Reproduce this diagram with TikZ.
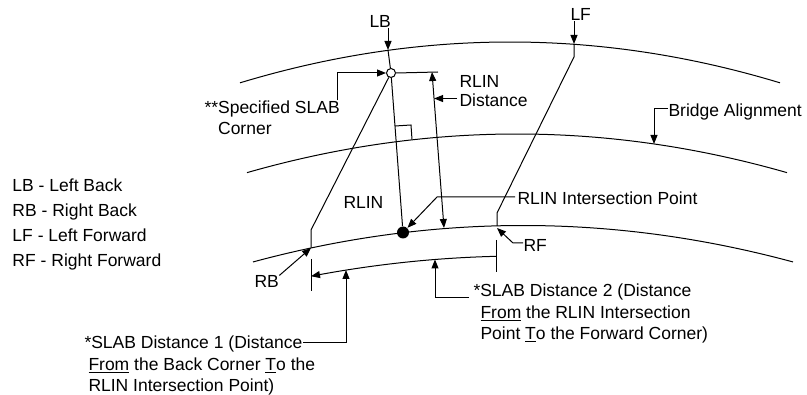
\documentclass[tikz,border=0pt]{standalone}
\usepackage{fontspec}
\setmainfont{Liberation Sans}
\usepackage{tikz}
\usetikzlibrary{arrows.meta,positioning,calc}
\tikzset{
  every picture/.style = {
    line width = 1pt,
    >={Triangle[length=9pt,width=7pt]},
    x = 1pt,
    y = -1pt
  }
  , % texts and labels (placed at the baseline of their last line)
  txt/.style = {
    font = \fontsize{17.5}{21.5}\selectfont,
    inner sep = 0pt,
    anchor = base west,
    align = left
  }
  , % the key of corners
  legend/.style = {
    txt,
    font = \fontsize{17.5}{25}\selectfont
  }
  ,
  corner/.style = {
    circle,
    draw,
    minimum size = 9pt,
    inner sep = 0pt
  }
  ,
  ipoint/.style = {
    circle,
    fill,
    minimum size = 12pt,
    inner sep = 0pt
  }
}

\begin{document}
\begin{tikzpicture}
		\useasboundingbox (0,0) rectangle (807,395);

		% curves: deck edges, bridge alignment, slab distance
		\draw plot[domain=240:780, samples=60] (\x, {42+5.6*((\x-510)/100)^2});
		\draw plot[domain=247:787, samples=60] (\x, {134+5.3*((\x-517)/100)^2});
		\draw plot[domain=253:793, samples=60] (\x, {225.5+5*((\x-523)/100)^2});
		\draw[<-] plot[domain=311:496, samples=30] (\x, {256+4.5*((\x-523)/100)^2});

		\coordinate (lbc) at (388,50);
		\coordinate (lfc) at (574,44);
		\coordinate (lbk) at (311,230);
		\coordinate (rbc) at (311,248);
		\coordinate (lfk) at (574,57);
		\coordinate (rfk) at (497,213);
		\coordinate (rfc) at (497,226);
		\node at (391,73) [corner] (sc) {};
		\node at (403,232.5) [ipoint] (ip) {};

		% slab edges and RLIN line
		\draw (lbc) -- (sc);
		\draw (sc) -- (lbk) -- (rbc);
		\draw (lfc) -- (lfk) -- (rfk) -- (rfc);
		\draw (sc) -- (ip);
		\draw (395,126) -- (411,125) -- (412,139.5);

		% dimension ticks
		\draw (311,259) -- (311,291);
		\draw (496,240) -- (496,272);
		\coordinate (dtop) at (432,72);
		\coordinate (dbot) at (444,228);
		\draw (sc.east) -- (438,72);
		\draw[<->] (dtop) -- (dbot);

		% labels
		\node at (369,28) [txt] (lb) {LB};
		\node at (570,21) [txt] (lf) {LF};
		\node at (523,252) [txt] (rf) {RF};
		\node at (254,288) [txt] (rb) {RB};
		\node at (343,209) [txt] (rlin) {RLIN};
		\node at (204,135) [txt] (spec) {**Specified SLAB\\\hspace*{0pt}\phantom{**}Corner};
		\node at (459,107) [txt, font=\fontsize{17.5}{19.5}\selectfont] (rdist) {RLIN\\Distance};
		\node at (517,205) [txt] (rip) {RLIN Intersection Point};
		\node at (668,117) [txt] (ba) {Bridge Alignment};
		\node at (84,392) [txt] (sd1) {*SLAB Distance 1 (Distance\\\hspace*{4pt}\underline{From} the Back Corner \underline{T}o the\\\hspace*{4pt}RLIN Intersection Point)};
		\node at (473,340) [txt] (sd2) {*SLAB Distance 2 (Distance\\\hspace*{7pt}\underline{From} the RLIN Intersection\\\hspace*{7pt}Point \underline{T}o the Forward Corner)};
		\node at (12,267) [legend] (key) {LB - Left Back\\RB - Right Back\\LF - Left Forward\\RF - Right Forward};

		% leaders
		\coordinate (rdp) at ($(dtop)!0.17!(dbot)$);
		\coordinate (ripk) at (437,197);
		\coordinate (bac) at (654,144);
		\coordinate (d1s) at (303,343);
		\coordinate (d1t) at (346,270);
		\coordinate (d2s) at (469,298);
		\coordinate (d2t) at (435,259.5);

		\draw[->] (lb.south -| lbc) -- (lbc);
		\draw[->] (lf.south -| lfc) -- (lfc);
		\draw[->] ([xshift=-3pt]spec.north east) |- (sc);
		\draw[->] ([xshift=-2pt]rdist.west |- rdp) -- (rdp);
		\draw[->] ([xshift=-2pt]rip.west |- ripk) -- (ripk) -- (ip);
		\draw[->] ([yshift=3pt]rf.west) -- ++(-10,0) -- ([yshift=-2pt]rfc);
		\draw[->] (rb.north east) -- (rbc);
		\draw[->] ([yshift=4pt]ba.west) -| (bac);
		\draw[->] (d1s) -| (d1t);
		\draw[->] (d2s) -| (d2t);
\end{tikzpicture}
\end{document}
